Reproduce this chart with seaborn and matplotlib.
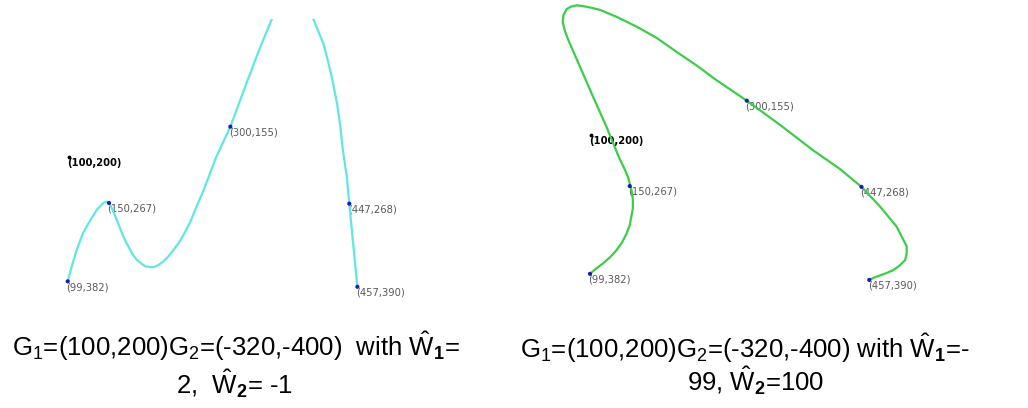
import matplotlib
matplotlib.use("Agg")
import matplotlib.pyplot as plt
import seaborn as sns
import pandas as pd

# curva da esquerda (W1=2, W2=-1), coordenadas de tela
left_x = [99, 104, 110, 118, 127, 135, 143, 147, 150, 154, 158, 166, 170, 174, 179, 184,
          190, 195, 201, 206, 211, 217, 223, 229, 236, 243, 250, 258, 267, 282, 300, 320,
          337, 351, 370, 385, 403, 408, 415, 421, 427, 432, 436, 439, 444, 447, 452, 457]
left_y = [382, 360, 336, 311, 292, 277, 267, 265, 267, 276, 287, 311, 322, 331, 342, 350,
          356, 360, 361, 361, 358, 353, 346, 337, 326, 312, 296, 273, 248, 201, 155, 91,
          38, -2, -40, -40, -2, 13, 33, 60, 91, 122, 155, 189, 229, 268, 329, 390]

# curva da direita (W1=-99, W2=100)
right_x = [99, 107, 116, 125, 133, 140, 146, 150, 152, 154, 154, 153, 151, 148, 144, 136,
           128, 120, 103, 86, 71, 67, 64, 65, 69, 75, 82, 90, 100, 112, 133, 159, 185,
           210, 236, 261, 300, 343, 385, 420, 447, 471, 492, 505, 505, 503, 496, 488,
           479, 471, 463, 457]
right_y = [382, 375, 368, 360, 351, 341, 329, 318, 307, 296, 285, 276, 268, 256, 246, 229,
           209, 189, 150, 110, 75, 64, 52, 43, 35, 31.5, 30, 31, 33, 36, 45, 58, 73,
           91, 109, 128, 155, 187, 220, 245, 268, 294, 320, 346, 355, 364, 371, 377,
           381, 384, 387, 390]

# pontos de controle
pts_x = [99, 150, 300, 447, 457]
pts_y = [382, 267, 155, 268, 390]
pts_labels = ["(99,382)", "(150,267)", "(300,155)", "(447,268)", "(457,390)"]
g1 = (100, 200)
g1_label = "(100,200)"

captions = [
    [r"G$_1$=(100,200)G$_2$=(-320,-400)  with $\hat{\mathrm{W}}_{\mathbf{1}}$=",
     r"2,  $\hat{\mathrm{W}}_{\mathbf{2}}$= -1"],
    [r"G$_1$=(100,200)G$_2$=(-320,-400) with $\hat{\mathrm{W}}_{\mathbf{1}}$=-",
     r"99, $\hat{\mathrm{W}}_{\mathbf{2}}$=100"],
]

sns.set_theme(style="white")
plt.rcParams["font.family"] = ["DejaVu Sans"]
plt.rcParams["mathtext.fontset"] = "custom"
plt.rcParams["mathtext.rm"] = "Liberation Sans"
plt.rcParams["mathtext.it"] = "Liberation Sans:italic"
plt.rcParams["mathtext.bf"] = "Liberation Sans:bold"

W, H = 1028, 408
fig = plt.figure(figsize=(W / 100, H / 100), dpi=100)
fig.patch.set_facecolor("white")


def add_axes_px(x0, y0, x1, y1):
    return fig.add_axes([x0 / W, 1 - y1 / H, (x1 - x0) / W, (y1 - y0) / H])


ax_l = add_axes_px(20, 19, 500, 300)
ax_r = add_axes_px(530, 0, 1010, 300)

panels = [
    (ax_l, left_x, left_y, "#5fe6e6", (40, 633.3), (409.4, -3.1)),
    (ax_r, right_x, right_y, "#3ccd4a", (22.1, 637.4), (416.3, 23.0)),
]

pts = pd.DataFrame({"x": pts_x, "y": pts_y})

for ax, cx, cy, color, xlim, ylim in panels:
    curve = pd.DataFrame({"x": cx, "y": cy})
    sns.lineplot(data=curve, x="x", y="y", sort=False, estimator=None,
                 color=color, linewidth=1.6, ax=ax, zorder=3)
    ax.lines[-1].set_solid_joinstyle("round")
    sns.scatterplot(data=pts, x="x", y="y", color="#1c1cb4", s=9,
                    edgecolor="none", ax=ax, zorder=4)
    ax.scatter([g1[0]], [g1[1]], s=3, color="black", zorder=4)
    for px, py, lab in zip(pts_x, pts_y, pts_labels):
        ax.annotate(lab, (px, py), xytext=(-1, -4.2), textcoords="offset points",
                    ha="left", va="center", fontsize=7.2, color="#5a5a5a", zorder=2)
    ax.annotate(g1_label, g1, xytext=(-1, -4.2), textcoords="offset points",
                ha="left", va="center", fontsize=7.2, color="black",
                fontweight="bold", zorder=2)
    ax.set_xlim(*xlim)
    ax.set_ylim(*ylim)
    ax.set_axis_off()

cap_pos = [[(236, 356), (234, 394)], [(745, 358), (756, 391)]]
for lines, poss in zip(captions, cap_pos):
    for txt, (cx, cy) in zip(lines, poss):
        fig.text(cx / W, 1 - cy / H, txt, ha="center", va="baseline",
                 fontsize=18.5, family="Liberation Sans", color="black")

fig.savefig("out.png", dpi=100, facecolor="white")
